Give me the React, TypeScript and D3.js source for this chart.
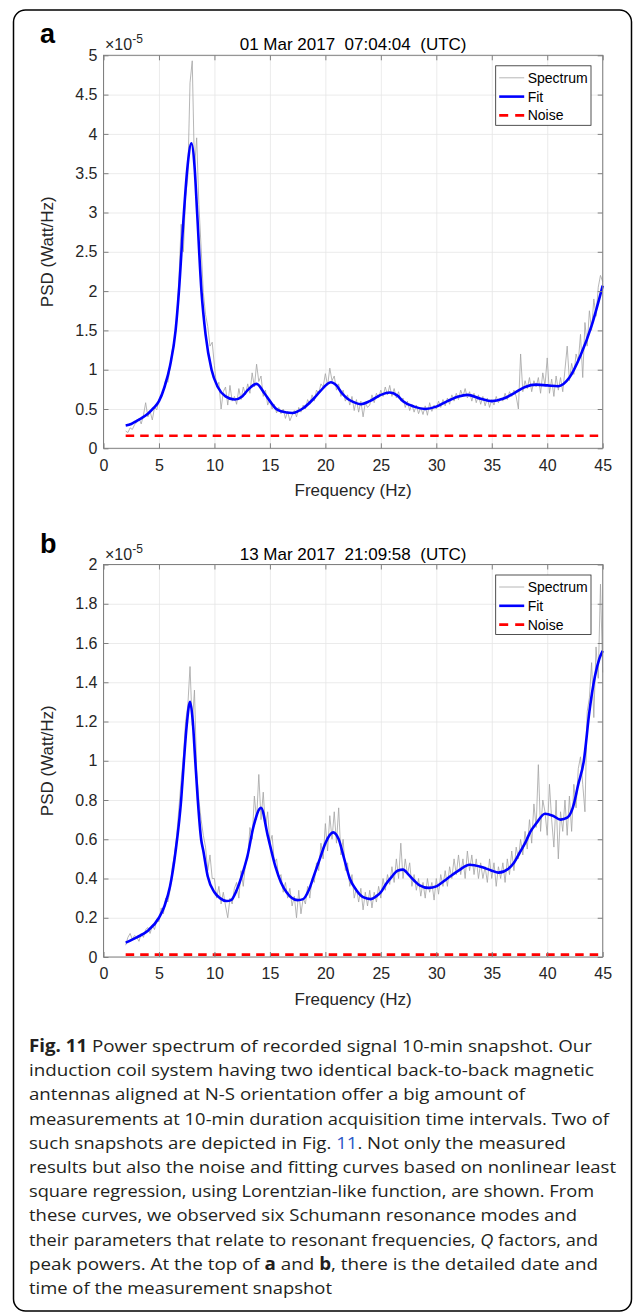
import React, { useRef, useEffect } from 'react'
import * as d3 from 'd3'

// spectrum samples: one every 0.2 Hz from 2 to 45 Hz, in units of 1e-5 W/Hz
const specStart = 2
const specStep = 0.2
const spectrumA = [
    0.22, 0.2, 0.26, 0.24, 0.3,
    0.33, 0.38, 0.31, 0.42, 0.58,
    0.4, 0.47, 0.36, 0.52, 0.49,
    0.62, 0.66, 0.74, 0.87, 0.84,
    1.02, 1.25, 1.4, 1.62, 2.15,
    2.85, 2.5, 3.2, 3.45, 4.65,
    4.93, 3.55, 3.95, 3.1, 2.55,
    1.98, 1.7, 1.55, 1.3, 1.35,
    1.05, 0.78, 0.84, 0.5, 0.72,
    0.78, 0.55, 0.8, 0.6, 0.66,
    0.56, 0.76, 0.62, 0.78, 0.68,
    0.82, 0.7, 0.96, 0.78, 1.07,
    0.85, 0.92, 0.66, 0.74, 0.55,
    0.62, 0.5, 0.56, 0.45, 0.52,
    0.44, 0.5, 0.38, 0.47, 0.35,
    0.42, 0.48, 0.4, 0.52, 0.46,
    0.55, 0.5, 0.62, 0.56, 0.68,
    0.6, 0.74, 0.7, 0.82, 0.78,
    0.95, 0.8, 1.02, 0.86, 0.92,
    0.74, 0.82, 0.66, 0.74, 0.6,
    0.68, 0.55, 0.66, 0.48, 0.62,
    0.46, 0.6, 0.4, 0.58, 0.52,
    0.55, 0.68, 0.58, 0.7, 0.64,
    0.74, 0.66, 0.78, 0.68, 0.8,
    0.66, 0.76, 0.64, 0.72, 0.6,
    0.64, 0.52, 0.6, 0.48, 0.56,
    0.46, 0.55, 0.44, 0.52, 0.43,
    0.54, 0.42, 0.58, 0.47, 0.55,
    0.5, 0.6, 0.52, 0.62, 0.54,
    0.64, 0.56, 0.68, 0.6, 0.7,
    0.62, 0.74, 0.66, 0.76, 0.64,
    0.72, 0.6, 0.7, 0.58, 0.68,
    0.56, 0.66, 0.54, 0.64, 0.52,
    0.62, 0.55, 0.66, 0.58, 0.64,
    0.6, 0.7, 0.62, 0.72, 0.66,
    0.74, 0.66, 0.5, 1.2, 0.72,
    0.86, 0.76, 0.9, 0.72, 0.86,
    0.78, 0.9, 0.7, 0.96, 0.8,
    1.15, 0.7, 0.88, 0.66, 0.92,
    0.74, 0.9, 0.72, 1.0, 1.3,
    0.86, 1.08, 0.94, 1.2, 1.1,
    1.45, 0.9, 1.6, 1.3, 1.75,
    1.5, 1.9, 1.68, 2.05, 2.2,
    2.12,
]
const spectrumB = [
    0.06, 0.1, 0.12, 0.09, 0.11,
    0.1, 0.08, 0.12, 0.1, 0.14,
    0.15, 0.12, 0.16, 0.14, 0.19,
    0.18, 0.25, 0.22, 0.3, 0.28,
    0.34, 0.46, 0.52, 0.62, 0.76,
    0.9, 1.02, 1.2, 1.28, 1.48,
    1.18, 1.36, 0.95, 0.8, 0.7,
    0.62, 0.56, 0.44, 0.52, 0.4,
    0.4, 0.3, 0.36, 0.27, 0.33,
    0.26, 0.2, 0.3, 0.27, 0.35,
    0.38, 0.3, 0.44, 0.36, 0.48,
    0.5, 0.66, 0.6, 0.82, 0.7,
    0.93, 0.7, 0.84, 0.66, 0.74,
    0.58, 0.62, 0.48, 0.5, 0.4,
    0.42, 0.33, 0.38, 0.3, 0.35,
    0.26, 0.31, 0.2, 0.34, 0.22,
    0.3, 0.27, 0.36, 0.3, 0.4,
    0.38, 0.48, 0.44, 0.58, 0.5,
    0.68, 0.54, 0.72, 0.6, 0.74,
    0.58, 0.76, 0.52, 0.6, 0.44,
    0.48, 0.36, 0.42, 0.3, 0.35,
    0.28, 0.35, 0.24, 0.33, 0.26,
    0.34, 0.25, 0.33, 0.28, 0.36,
    0.3, 0.4, 0.34, 0.42, 0.37,
    0.46, 0.38, 0.5, 0.4, 0.58,
    0.4, 0.5, 0.42, 0.48, 0.36,
    0.42, 0.34, 0.4, 0.31, 0.38,
    0.3, 0.4, 0.33, 0.38, 0.29,
    0.4, 0.32, 0.42, 0.36, 0.44,
    0.36, 0.46, 0.4, 0.5, 0.42,
    0.52, 0.42, 0.5, 0.4, 0.54,
    0.44, 0.52, 0.42, 0.5, 0.4,
    0.48, 0.4, 0.46, 0.38, 0.5,
    0.4, 0.48, 0.36, 0.46, 0.4,
    0.48, 0.38, 0.5, 0.42, 0.54,
    0.44, 0.56, 0.5, 0.6, 0.52,
    0.64, 0.55, 0.7, 0.58, 0.78,
    0.66, 0.98, 0.64, 0.8, 0.74,
    0.62, 0.88, 0.7, 0.56, 0.8,
    0.5, 0.74, 0.64, 0.8, 0.62,
    0.82, 0.64, 0.88, 0.76, 0.96,
    1.02, 0.88, 0.74, 1.25, 1.32,
    1.5, 1.22, 1.58, 1.42, 1.9,
    1.45,
]

// Lorentzian fit at these frequencies
const fitFreqA = [2, 2.5, 3, 3.5, 4, 4.5, 5, 5.5, 6, 6.5, 6.8, 7.25, 7.55, 7.93, 8.2, 8.44, 8.83, 9.2, 9.74, 10.3,
    11, 11.8, 12.5, 13, 13.8, 14.5, 15, 15.5, 16, 17, 18, 19, 19.5, 20.5, 21, 21.5, 22, 22.5, 23.2, 24,
    25, 25.8, 26.5, 27, 28, 29, 30, 31, 32, 32.8, 34, 35, 36, 37, 38, 39, 40, 41, 42, 43, 44, 45]
const fitA = [0.29, 0.31, 0.35, 0.39, 0.44, 0.51, 0.6, 0.78, 1.05, 1.5, 2.0, 3.0, 3.55, 3.88, 3.6, 3.0, 2.0, 1.45, 1.0, 0.78,
    0.66, 0.62, 0.66, 0.74, 0.82, 0.7, 0.6, 0.51, 0.47, 0.45, 0.51, 0.64, 0.72, 0.84, 0.8, 0.7, 0.63, 0.59, 0.56, 0.6,
    0.68, 0.71, 0.67, 0.6, 0.53, 0.5, 0.53, 0.6, 0.66, 0.68, 0.63, 0.6, 0.63, 0.7, 0.78, 0.81, 0.8, 0.79, 0.9, 1.18, 1.56, 2.07]
const fitFreqB = [2, 3, 4, 5, 5.5, 6, 6.5, 7, 7.25, 7.5, 7.8, 8.05, 8.25, 8.5, 8.8, 9.0, 9.4, 10, 10.5, 11.1,
    11.5, 12, 12.5, 13, 13.5, 14.2, 14.8, 15.5, 16, 16.5, 17.5, 18, 18.5, 19, 19.5, 20, 20.7, 21.2, 21.7, 22.2,
    22.8, 23.4, 24.1, 24.6, 25, 25.5, 26, 26.5, 27, 27.5, 28, 28.5, 29.3, 30, 31, 32, 33, 34, 35, 35.6,
    36.5, 37, 37.5, 38, 38.5, 39, 39.8, 40.5, 41.2, 41.8, 42.3, 42.8, 43.3, 43.8, 44.3, 44.7, 45]
const fitB = [0.073, 0.1, 0.134, 0.2, 0.26, 0.36, 0.54, 0.8, 1.0, 1.18, 1.3, 1.2, 1.02, 0.8, 0.6, 0.54, 0.41, 0.33, 0.3, 0.285,
    0.29, 0.34, 0.42, 0.52, 0.66, 0.76, 0.62, 0.46, 0.38, 0.33, 0.29, 0.295, 0.34, 0.42, 0.5, 0.58, 0.635, 0.6, 0.5, 0.4,
    0.34, 0.305, 0.295, 0.31, 0.33, 0.375, 0.41, 0.44, 0.445, 0.42, 0.39, 0.365, 0.352, 0.36, 0.4, 0.44, 0.47, 0.46, 0.44, 0.43,
    0.45, 0.48, 0.53, 0.58, 0.64, 0.68, 0.73, 0.72, 0.7, 0.71, 0.76, 0.88, 1.0, 1.25, 1.43, 1.52, 1.56]

const noiseFreq = [2, 45]
const noiseA = [0.16, 0.16]
const noiseB = [0.012, 0.012]

const panelLetters = ['a', 'b']
const panelTitles = ['01 Mar 2017  07:04:04  (UTC)', '13 Mar 2017  21:09:58  (UTC)']
const yMaxes = [5, 2]
const freqDomain = [0, 45]
const legendLabels = ['Spectrum', 'Fit', 'Noise']

// caption: [text, style] pieces per line, style b = bold, i = italic, l = link
const captionLines = [
    [['Fig. 11', 'b'], [' Power spectrum of recorded signal 10-min snapshot. Our', '']],
    [['induction coil system having two identical back-to-back magnetic', '']],
    [['antennas aligned at N-S orientation offer a big amount of', '']],
    [['measurements at 10-min duration acquisition time intervals. Two of', '']],
    [['such snapshots are depicted in Fig. ', ''], ['11', 'l'], ['. Not only the measured', '']],
    [['results but also the noise and fitting curves based on nonlinear least', '']],
    [['square regression, using Lorentzian-like function, are shown. From', '']],
    [['these curves, we observed six Schumann resonance modes and', '']],
    [['their parameters that relate to resonant frequencies, ', ''], ['Q', 'i'], [' factors, and', '']],
    [['peak powers. At the top of ', ''], ['a', 'b'], [' and ', ''], ['b', 'b'], [', there is the detailed date and', '']],
    [['time of the measurement snapshot', '']],
]
const captionEnds = [592, 594, 525, 609, 566, 616, 594, 577, 598, 598, 332]

const W = 634, H = 1316
const plotLeft = 103.5, plotRight = 602.7
const panelBoxes = [[55.3, 448.3], [564.5, 957]]
const AX_FONT = 'Liberation Sans, Arial, Helvetica, sans-serif'

const App = () => {
    const svgRef = useRef<SVGSVGElement>(null)

    useEffect(() => {
        const svg = d3.select(svgRef.current)
        svg.selectAll('*').remove()

        svg.append('rect').attr('width', W).attr('height', H).attr('fill', '#fff')
        svg.append('rect')
            .attr('x', 13.5).attr('y', 10).attr('width', 618).attr('height', 1301)
            .attr('rx', 12).attr('fill', 'none').attr('stroke', '#000').attr('stroke-width', 1.5)

        const panels = [
            { spec: spectrumA, fitF: fitFreqA, fit: fitA, noise: noiseA },
            { spec: spectrumB, fitF: fitFreqB, fit: fitB, noise: noiseB },
        ]

        panels.forEach((p, pi) => {
            const [top, bottom] = panelBoxes[pi]
            const x = d3.scaleLinear().domain(freqDomain).range([plotLeft, plotRight])
            const y = d3.scaleLinear().domain([0, yMaxes[pi]]).range([bottom, top])
            const g = svg.append('g')

            // grid
            g.append('g').attr('transform', `translate(0,${bottom})`)
                .call(d3.axisBottom(x).ticks(9).tickSize(-(bottom - top)).tickFormat(() => ''))
                .call(s => s.select('.domain').remove())
                .selectAll('line').attr('stroke', '#e6e6e6').attr('stroke-width', 0.8)
            g.append('g').attr('transform', `translate(${plotLeft},0)`)
                .call(d3.axisLeft(y).ticks(10).tickSize(-(plotRight - plotLeft)).tickFormat(() => ''))
                .call(s => s.select('.domain').remove())
                .selectAll('line').attr('stroke', '#e6e6e6').attr('stroke-width', 0.8)

            // series
            const specLine = d3.line<number>()
                .x((_, i) => x(specStart + i * specStep))
                .y(d => y(d))
            g.append('path').attr('d', specLine(p.spec))
                .attr('fill', 'none').attr('stroke', '#a3a3a3').attr('stroke-width', 0.8)

            const fitLine = d3.line<number>()
                .x((_, i) => x(p.fitF[i]))
                .y(d => y(d))
                .curve(d3.curveMonotoneX)
            g.append('path').attr('d', fitLine(p.fit))
                .attr('fill', 'none').attr('stroke', '#0000ff').attr('stroke-width', 2.6)

            const noiseLine = d3.line<number>()
                .x((_, i) => x(noiseFreq[i]))
                .y(d => y(d))
            g.append('path').attr('d', noiseLine(p.noise))
                .attr('fill', 'none').attr('stroke', '#ff0000').attr('stroke-width', 2.6)
                .attr('stroke-dasharray', '8.5,6')

            // axes with inward ticks on all four sides
            const styleAxis = (s: any) => {
                s.select('.domain').remove()
                s.attr('font-family', AX_FONT).attr('font-size', 16)
                s.selectAll('line').attr('stroke', '#808080')
                s.selectAll('text').attr('fill', '#262626')
            }
            g.append('g').attr('transform', `translate(0,${bottom})`)
                .call(d3.axisBottom(x).ticks(9).tickSizeInner(-5).tickSizeOuter(0).tickPadding(11))
                .call(styleAxis)
            g.append('g').attr('transform', `translate(0,${top})`)
                .call(d3.axisTop(x).ticks(9).tickSizeInner(-5).tickSizeOuter(0).tickFormat(() => ''))
                .call(styleAxis)
            g.append('g').attr('transform', `translate(${plotLeft},0)`)
                .call(d3.axisLeft(y).ticks(10).tickSizeInner(-5).tickSizeOuter(0).tickPadding(6)
                    .tickFormat(d => d3.format('~g')(d as number)))
                .call(styleAxis)
            g.append('g').attr('transform', `translate(${plotRight},0)`)
                .call(d3.axisRight(y).ticks(10).tickSizeInner(-5).tickSizeOuter(0).tickFormat(() => ''))
                .call(styleAxis)

            g.append('rect')
                .attr('x', plotLeft).attr('y', top)
                .attr('width', plotRight - plotLeft).attr('height', bottom - top)
                .attr('fill', 'none').attr('stroke', '#808080').attr('stroke-width', 1)

            // exponent
            const ex = g.append('text')
                .attr('x', plotLeft + 1.5).attr('y', top - 5)
                .attr('font-family', AX_FONT).attr('font-size', 16).attr('fill', '#262626')
            ex.append('tspan').text('×10')
            ex.append('tspan').attr('dy', -7).attr('font-size', 12).text('-5')

            // title
            g.append('text')
                .attr('x', (plotLeft + plotRight) / 2).attr('y', top - 5)
                .attr('text-anchor', 'middle')
                .attr('font-family', AX_FONT).attr('font-size', 17).attr('fill', '#000')
                .style('white-space', 'pre')
                .text(panelTitles[pi])

            // panel letter
            g.append('text')
                .attr('x', 40).attr('y', top - 12)
                .attr('font-family', AX_FONT).attr('font-size', 27).attr('font-weight', 'bold')
                .attr('fill', '#000')
                .text(panelLetters[pi])

            // axis labels
            g.append('text')
                .attr('transform', `translate(53,${(top + bottom) / 2}) rotate(-90)`)
                .attr('text-anchor', 'middle')
                .attr('font-family', AX_FONT).attr('font-size', 17).attr('fill', '#262626')
                .text('PSD (Watt/Hz)')
            g.append('text')
                .attr('x', (plotLeft + plotRight) / 2).attr('y', bottom + 48)
                .attr('text-anchor', 'middle')
                .attr('font-family', AX_FONT).attr('font-size', 17).attr('fill', '#262626')
                .text('Frequency (Hz)')

            // legend
            const lx = plotRight - 107, ly = top + 10.5
            const lg = g.append('g')
            lg.append('rect')
                .attr('x', lx).attr('y', ly).attr('width', 95.3).attr('height', 59.5)
                .attr('fill', '#fff').attr('stroke', '#262626').attr('stroke-width', 0.8)
            const legendStyles = [
                { stroke: '#a3a3a3', width: 0.8, dash: null },
                { stroke: '#0000ff', width: 2.6, dash: null },
                { stroke: '#ff0000', width: 2.6, dash: '9,7' },
            ]
            legendLabels.forEach((label, i) => {
                const ry = ly + 12 + i * 18.8
                const st = legendStyles[i]
                lg.append('line')
                    .attr('x1', lx + 3.5).attr('x2', lx + 28.5).attr('y1', ry).attr('y2', ry)
                    .attr('stroke', st.stroke).attr('stroke-width', st.width)
                    .attr('stroke-dasharray', st.dash)
                lg.append('text')
                    .attr('x', lx + 32).attr('y', ry).attr('dy', '0.35em')
                    .attr('font-family', AX_FONT).attr('font-size', 14).attr('fill', '#000')
                    .text(label)
            })
        })

        // caption
        const cap = svg.append('g')
        captionLines.forEach((parts, i) => {
            const t = cap.append('text')
                .attr('x', 29).attr('y', 1052 + i * 24.2)
                .attr('font-family', 'Open Sans, Noto Sans, sans-serif')
                .attr('font-size', 17).attr('fill', '#231f20')
                .attr('textLength', captionEnds[i] - 29)
                .attr('lengthAdjust', 'spacingAndGlyphs')
                .style('white-space', 'pre')
            parts.forEach(([txt, st]) => {
                const ts = t.append('tspan').text(txt)
                if (st === 'b') ts.attr('font-weight', 'bold')
                if (st === 'i') ts.attr('font-style', 'italic')
                if (st === 'l') ts.attr('fill', '#2b58c9')
            })
        })
    }, [])

    return (
        <div style={{ position: 'absolute', left: 0, top: 0 }}>
            <svg ref={svgRef} width={W} height={H} style={{ display: 'block' }}></svg>
        </div>
    )
}

export default App
